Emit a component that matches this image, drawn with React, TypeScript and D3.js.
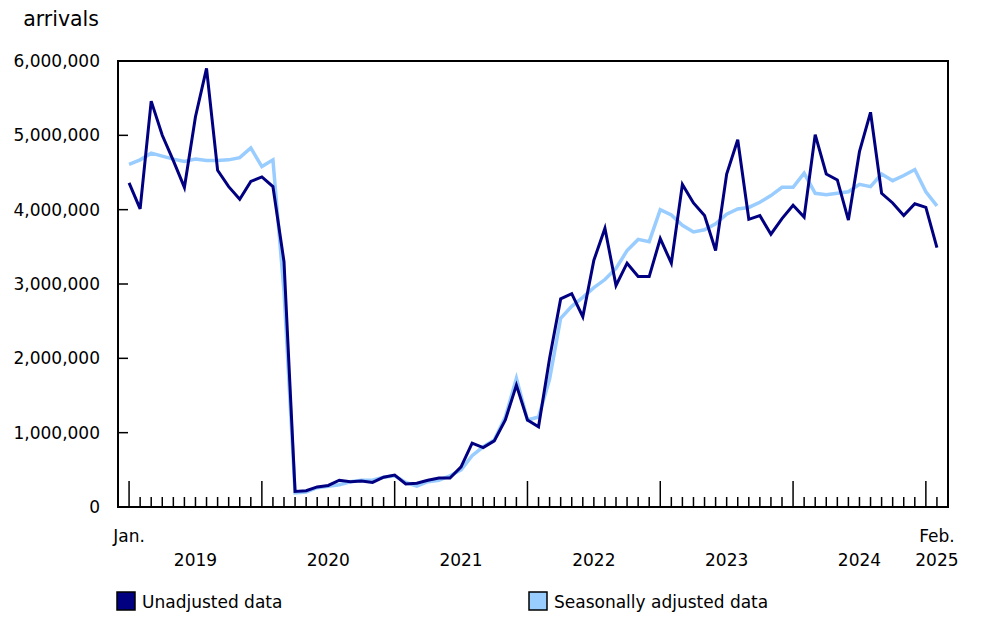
import React from "react";
import * as d3 from "d3";

const unadjusted: number[] = [
  4.36, 4.01, 5.46, 5.0, 4.66, 4.3, 5.25, 5.9, 4.53, 4.31, 4.14, 4.38,
  4.44, 4.31, 3.3, 0.21, 0.22, 0.27, 0.29, 0.36, 0.34, 0.35, 0.33, 0.4,
  0.43, 0.31, 0.32, 0.36, 0.39, 0.39, 0.54, 0.86, 0.8, 0.89, 1.17, 1.64,
  1.17, 1.08, 2.0, 2.8, 2.87, 2.56, 3.32, 3.75, 2.98, 3.28, 3.1, 3.1,
  3.61, 3.28, 4.34, 4.09, 3.92, 3.45, 4.48, 4.94, 3.87, 3.92, 3.67, 3.88,
  4.06, 3.9, 5.01, 4.48, 4.4, 3.86, 4.78, 5.31, 4.22, 4.09, 3.92, 4.08,
  4.03, 3.49,
].map((v) => v * 1e6);

const adjusted: number[] = [
  4.61, 4.67, 4.76, 4.72, 4.68, 4.65, 4.68, 4.66, 4.66, 4.67, 4.7, 4.83,
  4.58, 4.67, 2.9, 0.19, 0.2, 0.26, 0.28, 0.3, 0.34, 0.36, 0.36, 0.4,
  0.42, 0.33, 0.28, 0.34, 0.36, 0.42, 0.5, 0.69, 0.81, 0.9, 1.21, 1.73,
  1.17, 1.21, 1.72, 2.54, 2.7, 2.82, 2.95, 3.06, 3.21, 3.45, 3.6, 3.57,
  4.0, 3.93, 3.79, 3.7, 3.73, 3.81, 3.94, 4.01, 4.03, 4.1, 4.19, 4.3,
  4.3, 4.49, 4.22, 4.2, 4.22, 4.24, 4.34, 4.31, 4.48, 4.39, 4.46, 4.54,
  4.24, 4.05,
].map((v) => v * 1e6);

const years: string[] = ["2019", "2020", "2021", "2022", "2023", "2024", "2025"];
const yTicks: number[] = [0, 1e6, 2e6, 3e6, 4e6, 5e6, 6e6];
const seriesNames: string[] = ["Unadjusted data", "Seasonally adjusted data"];
const seriesColors: string[] = ["#000080", "#99ccff"];
const firstLabel = "Jan.";
const lastLabel = "Feb.";
const yTitle = "arrivals";

const W = 988;
const H = 625;
const FONT = "'DejaVu Sans', Verdana, sans-serif";

export default function App() {
  const n = unadjusted.length;
  const left = 118,
    right = 948,
    top = 61,
    bottom = 507;
  const x = d3.scaleLinear().domain([-1, n]).range([left, right]);
  const y = d3.scaleLinear().domain([0, 6e6]).range([bottom, top]);
  const line = d3
    .line<number>()
    .x((_, i) => x(i))
    .y((d) => y(d));
  const fmt = d3.format(",");
  const idx = d3.range(n);

  return (
    <div style={{ position: "absolute", left: 0, top: 0 }}>
      <svg width={W} height={H} style={{ display: "block", fontFamily: FONT }}>
        <rect x={0} y={0} width={W} height={H} fill="#fff" />
        <text x={99} y={26} textAnchor="end" fontSize={20.5} fill="#000">
          {yTitle}
        </text>
        {yTicks.map((t) => (
          <g key={t}>
            <line x1={left} x2={left + 10} y1={y(t)} y2={y(t)} stroke="#000" strokeWidth={1.5} />
            <text x={100} y={y(t)} dy="0.36em" textAnchor="end" fontSize={17} fill="#000">
              {fmt(t)}
            </text>
          </g>
        ))}
        {idx.map((i) => (
          <line
            key={i}
            x1={x(i)}
            x2={x(i)}
            y1={bottom}
            y2={i % 12 === 0 ? bottom - 26 : bottom - 10}
            stroke="#000"
            strokeWidth={1.5}
          />
        ))}
        <path d={line(adjusted) || ""} fill="none" stroke={seriesColors[1]} strokeWidth={3.5} strokeLinejoin="miter" />
        <path d={line(unadjusted) || ""} fill="none" stroke={seriesColors[0]} strokeWidth={3} strokeLinejoin="miter" />
        <rect
          x={left}
          y={top}
          width={right - left}
          height={bottom - top}
          fill="none"
          stroke="#000"
          strokeWidth={2}
        />
        <text x={x(0)} y={542} textAnchor="middle" fontSize={17}>
          {firstLabel}
        </text>
        <text x={x(n - 1)} y={542} textAnchor="middle" fontSize={17}>
          {lastLabel}
        </text>
        {years.map((yr, k) => {
          const s = k * 12;
          const e = Math.min(s + 12, n);
          return (
            <text key={yr} x={(x(s) + x(e)) / 2} y={566} textAnchor="middle" fontSize={17}>
              {yr}
            </text>
          );
        })}
        {seriesNames.map((name, k) => {
          const lx = k === 0 ? 117 : 529;
          return (
            <g key={name}>
              <rect x={lx} y={592} width={18} height={18} fill={seriesColors[k]} stroke="#000" strokeWidth={1.5} />
              <text x={lx + 25} y={608} fontSize={17}>
                {name}
              </text>
            </g>
          );
        })}
      </svg>
    </div>
  );
}
